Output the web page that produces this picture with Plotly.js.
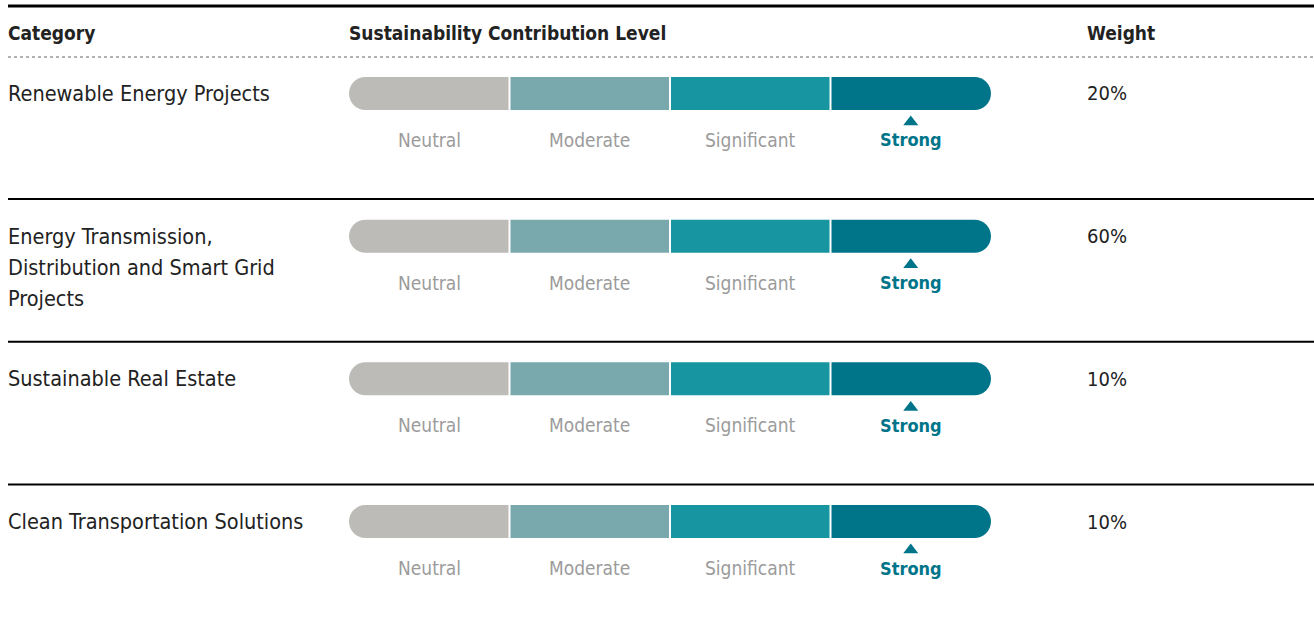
<!DOCTYPE html>
<html>
<head>
<meta charset="utf-8">
<script src="https://cdn.plot.ly/plotly-3.0.1.min.js"></script>
<style>
html,body{margin:0;padding:0;background:#fff;}
#chart{width:1314px;height:625px;}
</style>
</head>
<body>
<div id="chart"></div>
<script>
// ---- data ----
const categories = [
  "Renewable Energy Projects",
  "Energy Transmission,<br>Distribution and Smart Grid<br>Projects",
  "Sustainable Real Estate",
  "Clean Transportation Solutions"
];
const weights = ["20%", "60%", "10%", "10%"];
const levels = ["Neutral", "Moderate", "Significant", "Strong"];
const levelColors = ["#bdbbb7", "#79a8ad", "#1795a0", "#00758a"];
const selectedLevel = ["Strong", "Strong", "Strong", "Strong"];
const headers = ["Category", "Sustainability Contribution Level", "Weight"];

// ---- layout constants ----
const W = 1314, H = 625;
const FONT = '"DejaVu Sans Condensed", "Liberation Sans Narrow", sans-serif';
const barLeftPx = 349, barRightPx = 991;
const segPx = (barRightPx - barLeftPx) / levels.length;
const unitPx = 625 / 4.38;     // pixels per y unit
const halfH = 16.5 / unitPx;   // half bar height (y units)
const rx = 16.5 / segPx;       // corner radius (x units)
const ry = halfH;
const gap = 1 / segPx;         // half white gap (x units)
const k = 0.5523;
const linePitch = 31 / unitPx;

const shapes = [];
const annotations = [];

function segPath(r, i) {
  const n = levels.length;
  const x0 = i === 0 ? i : i + gap;
  const x1 = i === n - 1 ? i + 1 : i + 1 - gap;
  const y0 = r - halfH, y1 = r + halfH;
  let p = '';
  if (i === 0) {
    p += `M${x0 + rx},${y0} L${x1},${y0} L${x1},${y1} L${x0 + rx},${y1} `;
    p += `C${x0 + rx - k * rx},${y1} ${x0},${r + k * ry} ${x0},${r} `;
    p += `C${x0},${r - k * ry} ${x0 + rx - k * rx},${y0} ${x0 + rx},${y0} Z`;
  } else if (i === n - 1) {
    p += `M${x0},${y0} L${x1 - rx},${y0} `;
    p += `C${x1 - rx + k * rx},${y0} ${x1},${r - k * ry} ${x1},${r} `;
    p += `C${x1},${r + k * ry} ${x1 - rx + k * rx},${y1} ${x1 - rx},${y1} `;
    p += `L${x0},${y1} Z`;
  } else {
    p += `M${x0},${y0} L${x1},${y0} L${x1},${y1} L${x0},${y1} Z`;
  }
  return p;
}

categories.forEach((cat, r) => {
  levels.forEach((lv, i) => {
    shapes.push({
      type: 'path', xref: 'x', yref: 'y', path: segPath(r, i),
      fillcolor: levelColors[i], line: {width: 0}, layer: 'below'
    });
    const sel = selectedLevel[r] === lv;
    annotations.push({
      xref: 'x', yref: 'y', x: i + 0.5, y: r + 0.326, text: lv,
      showarrow: false, xanchor: 'center', yanchor: 'middle',
      font: {family: FONT, size: sel ? 18 : 19, color: sel ? '#00758a' : '#9b9b9b', weight: sel ? 700 : 400}
    });
  });
  // category label (one annotation per line for exact line pitch)
  cat.split('<br>').forEach((line, li) => {
    annotations.push({
      xref: 'paper', yref: 'y', x: 6 / W, y: r + li * linePitch, text: line,
      showarrow: false, xanchor: 'left', yanchor: 'middle', align: 'left',
      font: {family: FONT, size: 21.5, color: '#222'}
    });
  });
  // weight
  annotations.push({
    xref: 'paper', yref: 'y', x: 1085 / W, y: r, text: weights[r],
    showarrow: false, xanchor: 'left', yanchor: 'middle', align: 'left',
    font: {family: FONT, size: 20, color: '#222'}
  });
  // row separator
  if (r > 0) {
    shapes.push({
      type: 'line', xref: 'paper', yref: 'y', x0: 8 / W, x1: 1, y0: r - 0.26, y1: r - 0.26,
      line: {color: '#000', width: 2}
    });
  }
});

// header
const headerX = [6, 347, 1085];
headers.forEach((h, j) => {
  annotations.push({
    xref: 'paper', yref: 'paper', x: headerX[j] / W, y: 1 - 33 / H, text: h,
    showarrow: false, xanchor: 'left', yanchor: 'middle',
    font: {family: FONT, size: 19, color: '#222', weight: 700}
  });
});
shapes.push({type: 'line', xref: 'paper', yref: 'paper', x0: 8 / W, x1: 1, y0: 1 - 6 / H, y1: 1 - 6 / H,
  line: {color: '#000', width: 3}});
shapes.push({type: 'line', xref: 'paper', yref: 'paper', x0: 8 / W, x1: 1, y0: 1 - 57 / H, y1: 1 - 57 / H,
  line: {color: '#666', width: 1, dash: 'dot'}});

// triangle markers
const markerTrace = {
  type: 'scatter', mode: 'markers',
  x: selectedLevel.map(s => levels.indexOf(s) + 0.5),
  y: categories.map((c, r) => r + 0.2),
  marker: {symbol: 'triangle-up', size: 13, color: '#00758a'},
  hoverinfo: 'skip', showlegend: false
};

const layout = {
  width: W, height: H,
  margin: {l: 0, r: 0, t: 0, b: 0},
  paper_bgcolor: '#fff', plot_bgcolor: '#fff',
  showlegend: false,
  xaxis: {domain: [barLeftPx / W, barRightPx / W], range: [0, levels.length],
    showgrid: false, zeroline: false, showticklabels: false, showline: false, fixedrange: true},
  yaxis: {domain: [0, 1], range: [3.725, -0.655],
    showgrid: false, zeroline: false, showticklabels: false, showline: false, fixedrange: true},
  shapes: shapes,
  annotations: annotations
};

Plotly.newPlot('chart', [markerTrace], layout, {displayModeBar: false, staticPlot: true});
</script>
</body>
</html>
